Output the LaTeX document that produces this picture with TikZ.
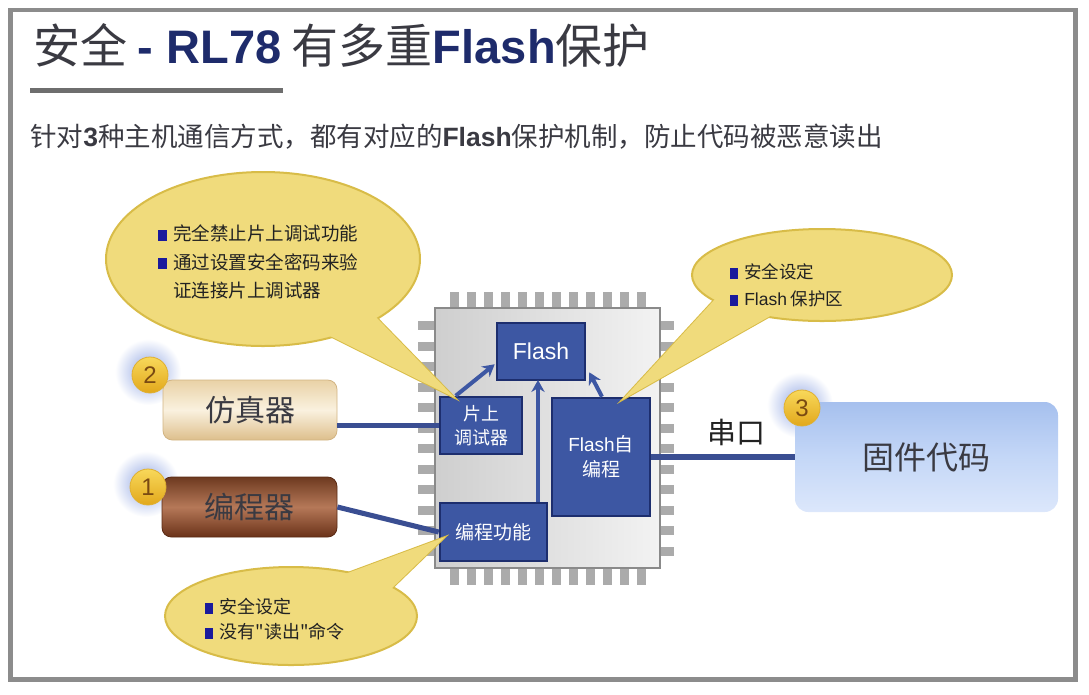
\documentclass[tikz,border=0pt]{standalone}
\usepackage{fontspec}
\setmainfont{Liberation Sans}
\newfontfamily\cjk{Noto Sans CJK SC}
\usetikzlibrary{calc,arrows.meta}
\newcommand\fpx[1]{\fontsize{\fpeval{#1*0.75}pt}{\fpeval{#1*1.1}pt}\selectfont}
\definecolor{framegray}{HTML}{8C8C8C}
\definecolor{navy}{HTML}{1E2B6B}
\definecolor{tgray}{HTML}{3A3A42}
\definecolor{boxblue}{HTML}{3D57A3}
\definecolor{boxedge}{HTML}{1D2E6E}
\definecolor{wire}{HTML}{3A4E92}
\definecolor{bfill}{HTML}{F0DB7C}
\definecolor{bedge}{HTML}{D8BC48}
\definecolor{pingray}{HTML}{ABABAB}
\definecolor{chipedge}{HTML}{8A8A8A}
\definecolor{bulblue}{HTML}{1A1A9C}
\definecolor{glowblue}{HTML}{8EA4E2}
\definecolor{numtxt}{HTML}{7A4A12}
\definecolor{btxt}{HTML}{222222}
\definecolor{numtop}{HTML}{F8D85A}
\definecolor{numbot}{HTML}{E2A81C}
\definecolor{numedge}{HTML}{E0B030}
\definecolor{fztop}{HTML}{E9D2A6}
\definecolor{fzmid}{HTML}{FAF1DF}
\definecolor{fzbot}{HTML}{DDBF8C}
\definecolor{fzedge}{HTML}{D2B483}
\definecolor{bctop}{HTML}{6E3A20}
\definecolor{bcmid}{HTML}{B57858}
\definecolor{bcbot}{HTML}{6A3219}
\definecolor{bcedge}{HTML}{5A2A14}
\definecolor{fwtop}{HTML}{A6C0EE}
\definecolor{fwmid}{HTML}{C4D7F7}
\definecolor{fwbot}{HTML}{DCE7FB}
\definecolor{bargray}{HTML}{6E6E6E}
\newcommand\lb[1]{{\rmfamily\bfseries\color{navy}#1}}
\newcommand\bul{\textcolor{bulblue}{\rule[-0.02em]{0.45em}{0.62em}}\hspace{0.35em}}
\tikzset{
  chipbox/.style={draw=boxedge, fill=boxblue, line width=1.9pt, text=white, inner sep=0pt, align=center},
  wireline/.style={wire, line width=3.8pt},
  arrowline/.style={boxblue, line width=3pt, -{Stealth[length=9pt,width=10pt]}},
  numc/.style={circle, minimum size=27pt, inner sep=0pt, top color=numtop, bottom color=numbot, draw=numedge, line width=0.6pt, text=numtxt, font=\fpx{24}},
  bubble/.style={fill=bfill, draw=bedge, line width=1.5pt},
  btext/.style={anchor=west, align=left, text=btxt, inner sep=0pt},
  glowc/.style={inner color=glowblue, outer color=white}
}
\begin{document}
\begin{tikzpicture}[x=0.75pt,y=-0.75pt]
\useasboundingbox (0,0) rectangle (1089,694);
% frame
\draw[framegray, line width=3.6pt] (10.5,10) rectangle (1075.5,679.5);
% title
\node[anchor=base west, inner sep=0pt, text=tgray] (title) at (33,63)
  {\fpx{47}\cjk 安全 \lb{- RL78} 有多重\lb{Flash}保护};
\fill[bargray] (30,88) rectangle (283,93);
\node[anchor=base west, inner sep=0pt, text=tgray] (sub) at (30,146)
  {\fpx{26.5}\cjk 针对{\rmfamily\bfseries 3}种主机通信方式，都有对应的{\rmfamily\bfseries Flash}保护机制，防止代码被恶意读出};
% glows
\shade[glowc] (148,372) circle [radius=33];
\shade[glowc] (146,484) circle [radius=33];
\shade[glowc] (800,405) circle [radius=33];
% chip pins
\foreach \i in {0,...,11}{
  \fill[pingray] (450+17*\i,292) rectangle (459+17*\i,308);
  \fill[pingray] (450+17*\i,568) rectangle (459+17*\i,585);
  \fill[pingray] (418,321+20.5*\i) rectangle (435,330+20.5*\i);
  \fill[pingray] (660,321+20.5*\i) rectangle (674,330+20.5*\i);
}
\shade[shading angle=135, left color=gray!38, right color=gray!10, draw=chipedge, line width=2.2pt] (435,308) rectangle (660,568);
% blue boxes
\node[chipbox, minimum width=66pt, minimum height=42.75pt, font=\fpx{23}] (flash) at (541,351.5) {Flash};
\node[chipbox, minimum width=61.5pt, minimum height=42.75pt, font=\fpx{18}\cjk] (dbg) at (481,425.5) {片上\\[-2pt]调试器};
\node[chipbox, minimum width=73.5pt, minimum height=88.5pt, font=\fpx{19}\cjk] (fse) at (601,457) {{\rmfamily Flash}自\\[-2pt]编程};
\node[chipbox, minimum width=80.25pt, minimum height=43.5pt, font=\fpx{19}\cjk] (prog) at (493.5,532) {编程功能};
% arrows
\draw[arrowline] ($(dbg.north west)+(17,0)$) -- ($(flash.south west)+(-1,-17)$);
\draw[arrowline] (prog.north -| 538,0) -- (538,380);
\draw[arrowline] ($(fse.north)+(1,0)$) -- ($(flash.south east)+(3,-9)$);
% left boxes
\node[rounded corners=7pt, minimum width=130.5pt, minimum height=45pt, top color=fztop, bottom color=fzbot, middle color=fzmid, draw=fzedge, line width=0.6pt, text=tgray, font=\fpx{30}\cjk] (fz) at (250,410) {仿真器};
\node[rounded corners=7pt, minimum width=131.25pt, minimum height=45pt, top color=bctop, bottom color=bcbot, middle color=bcmid, draw=bcedge, line width=0.6pt, text=tgray, font=\fpx{30}\cjk] (bcq) at (249.5,507) {编程器};
\node[rounded corners=10pt, minimum width=197.25pt, minimum height=82.5pt, top color=fwtop, bottom color=fwbot, middle color=fwmid, draw=none, text=tgray, font=\fpx{32}\cjk] (fw) at (926.5,457) {固件代码};
\node[text=btxt, font=\fpx{29}\cjk, inner sep=0pt] (uart) at (736,432) {串口};
% wires (node to node)
\draw[wireline] (dbg.west -| fz.east) -- (dbg.west);
\draw[wireline] (bcq.east) -- (prog.west);
\draw[wireline] (fse.east) -- (fw.west);
% number circles
\node[numc] (n2) at (150,375) {2};
\node[numc] (n1) at (148,487) {1};
\node[numc] (n3) at (802,408) {3};
% bubble 1
\fill[bubble] (375,316) -- (455,398) -- (330,336) -- cycle;
\fill[bubble] (263,259) ellipse [x radius=157, y radius=87];
\fill[bfill] (375,316) -- (455,398) -- (330,336) -- cycle;
\node[btext, font=\fpx{18.5}\cjk] (t1) at (158,262) {\bul 完全禁止片上调试功能\\[1pt] \bul 通过设置安全密码来验\\[1pt] \phantom{\bul}证连接片上调试器};
% bubble 2
\fill[bubble] (716,298) -- (622,400) -- (772,315) -- cycle;
\fill[bubble] (822,275) ellipse [x radius=130, y radius=46];
\fill[bfill] (716,298) -- (622,400) -- (772,315) -- cycle;
\node[btext, font=\fpx{17.5}\cjk] (t2) at (730,285) {\bul 安全设定\\[1pt] \bul {\rmfamily Flash} 保护区};
% bubble 3
\fill[bubble] (345,574) -- (445,537) -- (390,590) -- cycle;
\fill[bubble] (291,616) ellipse [x radius=126, y radius=49];
\fill[bfill] (345,574) -- (445,537) -- (390,590) -- cycle;
\node[btext, font=\fpx{18}\cjk] (t3) at (205,619) {\bul 安全设定\\[-1pt] \bul 没有"读出"命令};
\end{tikzpicture}
\end{document}
